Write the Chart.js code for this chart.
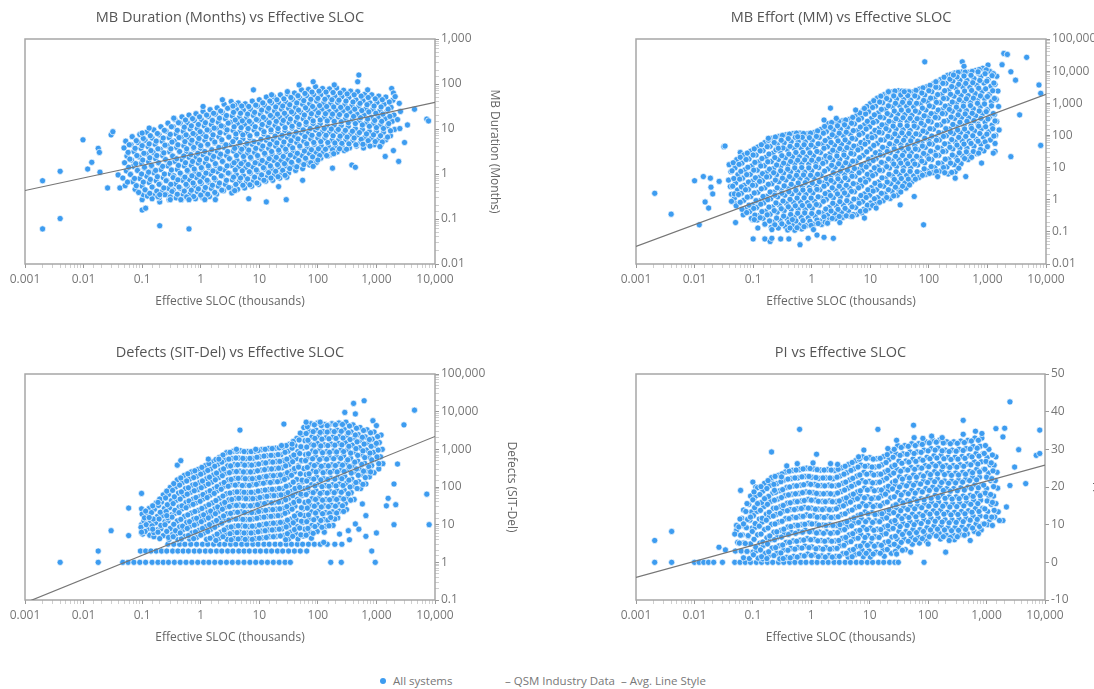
<!DOCTYPE html>
<html>
<head>
<meta charset="utf-8">
<title>Effective SLOC scatter panels</title>
<script src="https://cdn.jsdelivr.net/npm/chart.js@4.4.1/dist/chart.umd.min.js"></script>
<style>
  html, body { margin: 0; padding: 0; background: #fff; width: 1094px; height: 689px; overflow: hidden; position: relative; }
  canvas { position: absolute; }
  .legend { position: absolute; top: 673px; font: 11.5px "Open Sans", sans-serif; color: #777; white-space: nowrap; line-height: 16px; }
  .legend .dot { display: inline-block; width: 6px; height: 6px; border-radius: 50%; background: #3d9cf0; margin-right: 7px; vertical-align: 1px; }
</style>
</head>
<body>
<canvas id="durationChart" width="547" height="330" style="left:0;top:0"></canvas>
<canvas id="effortChart" width="620" height="330" style="left:547px;top:0"></canvas>
<canvas id="defectChart" width="547" height="330" style="left:0;top:330px"></canvas>
<canvas id="piChart" width="620" height="330" style="left:547px;top:330px"></canvas>

<div class="legend" style="left:380px"><span class="dot"></span>All systems</div>
<div class="legend" style="left:505px">&ndash; QSM Industry Data</div>
<div class="legend" style="left:621px">&ndash; Avg. Line Style</div>

<script>
// Tick labels
const xTickValues = [0.001, 0.01, 0.1, 1, 10, 100, 1000, 10000];
const xTickLabels = ['0.001', '0.01', '0.1', '1', '10', '100', '1,000', '10,000'];
const durationTickValues = [0.01, 0.1, 1, 10, 100, 1000];
const durationTickLabels = ['0.01', '0.1', '1', '10', '100', '1,000'];
const effortTickValues = [0.01, 0.1, 1, 10, 100, 1000, 10000, 100000];
const effortTickLabels = ['0.01', '0.1', '1', '10', '100', '1,000', '10,000', '100,000'];
const defectTickValues = [0.1, 1, 10, 100, 1000, 10000, 100000];
const defectTickLabels = ['0.1', '1', '10', '100', '1,000', '10,000', '100,000'];
const piTickValues = [-10, 0, 10, 20, 30, 40, 50];
const piTickLabels = ['-10', '0', '10', '20', '30', '40', '50'];

// Industry trend lines: y at x = 0.001 and x = 10,000
const lineX = [0.001, 10000];
const durationLine = [0.43, 39];
const effortLine = [0.035, 1900];
const defectLine = [0.084, 2200];
const piLine = [-4, 25.8];

// Points, as pairs: log10(SLOC)*100, log10(value)*100
const durationPts = [
  -270,-15, -270,-122, -240,6, -240,-99, -201,76, -186,26, -193,11, -175,57, -173,48, -172,4, -159,-31, -153,87, -150,94,
  -141,-2, -138,-31, -100,-80, -100,-57, -98,-46, -94,-76, -70,-62, -70,-115, -20,-122, 82,-55, 90,187, 112,-62, 133,-28,
  146,-57, 174,-14, 225,13, 270,220, 268,205, 258,20, 264,15, 329,52, 338,28, 365,144, 353,109, 386,122, 389,118, 326,190, 329,180,
  -128,73, -131,58, -126,40, -130,25, -127,7, -133,-9, -129,-26,
  -117,83, -119,65, -114,50, -118,31, -115,17, -120,0, -116,-17, -112,-34,
  -104,88, -107,70, -102,57, -105,38, -101,24, -108,9, -104,-10, -100,-27, -106,-41,
  -92,93, -95,75, -90,61, -93,45, -89,27, -96,13, -92,-5, -88,-19, -94,-37, -91,-49,
  -80,98, -83,80, -78,66, -81,48, -77,34, -84,17, -80,3, -76,-15, -82,-29, -79,-47, -83,-55,
  -68,105, -71,87, -66,73, -69,55, -65,41, -72,24, -68,10, -64,-8, -70,-22, -67,-40, -71,-53,
  -56,113, -59,95, -54,81, -57,63, -53,49, -60,32, -56,18, -52,0, -58,-14, -55,-32, -59,-45, -54,-57,
  -44,121, -47,105, -42,89, -45,73, -41,59, -48,41, -44,28, -40,10, -46,-4, -43,-22, -47,-36, -42,-53,
  -32,127, -35,113, -30,95, -33,81, -29,63, -36,49, -32,32, -28,18, -34,0, -31,-14, -35,-32, -30,-45, -33,-57,
  -20,131, -23,114, -18,100, -21,82, -17,68, -24,50, -20,37, -16,19, -22,5, -19,-13, -23,-27, -18,-44, -21,-56,
  -8,134, -11,119, -6,101, -9,87, -5,69, -12,56, -8,38, -4,24, -10,6, -7,-8, -11,-26, -6,-39, -9,-55,
  4,139, 1,121, 6,107, 3,89, 7,75, 0,57, 4,43, 8,25, 2,11, 5,-7, 1,-21, 6,-38, 3,-52,
  16,143, 13,128, 18,110, 15,96, 19,78, 12,64, 16,46, 20,32, 14,14, 17,0, 13,-18, 18,-32, 15,-50,
  28,147, 25,133, 30,115, 27,101, 31,83, 24,69, 28,51, 32,37, 26,19, 29,5, 25,-13, 30,-27, 27,-45,
  40,155, 37,137, 42,123, 39,105, 43,91, 36,73, 40,59, 44,41, 38,27, 41,9, 37,-5, 42,-23, 39,-37,
  52,161, 49,147, 54,129, 51,115, 55,97, 48,83, 52,65, 56,51, 50,33, 53,19, 49,1, 54,-13, 51,-31, 53,-42,
  64,158, 61,144, 66,126, 63,112, 67,94, 60,80, 64,62, 68,48, 62,30, 65,16, 61,-2, 66,-16, 63,-34,
  76,156, 73,142, 78,124, 75,110, 79,92, 72,78, 76,60, 80,46, 74,28, 77,14, 73,-4, 78,-18, 75,-31,
  88,162, 85,144, 90,130, 87,112, 91,98, 84,80, 88,66, 92,48, 86,34, 89,16, 85,2, 90,-16, 87,-27,
  100,165, 97,151, 102,133, 99,119, 103,101, 96,87, 100,69, 104,55, 98,37, 101,23, 97,5, 102,-9, 99,-23,
  112,171, 109,153, 114,139, 111,121, 115,107, 108,89, 112,75, 116,57, 110,43, 113,25, 109,11, 114,-6, 111,-16,
  124,172, 121,158, 126,140, 123,126, 127,108, 120,94, 124,76, 128,62, 122,44, 125,30, 121,12, 126,-1, 123,-14,
  136,176, 133,158, 138,144, 135,126, 139,112, 132,94, 136,80, 140,62, 134,48, 137,30, 133,16, 138,-1, 135,-9,
  148,178, 145,160, 150,146, 147,128, 151,114, 144,96, 148,82, 152,64, 146,50, 149,32, 145,18, 150,2, 147,-7,
  160,180, 157,166, 162,148, 159,134, 163,116, 156,102, 160,84, 164,70, 158,52, 161,38, 157,20, 162,8,
  172,187, 169,169, 174,155, 171,137, 175,123, 168,105, 172,91, 176,73, 170,59, 173,41, 169,27, 174,12,
  184,188, 181,174, 186,156, 183,142, 187,124, 180,110, 184,92, 188,78, 182,60, 185,46, 181,28, 186,20,
  196,194, 193,176, 198,162, 195,144, 199,130, 192,112, 196,98, 200,80, 194,66, 197,48, 193,34, 198,26,
  208,190, 205,176, 210,158, 207,144, 211,126, 204,112, 208,94, 212,80, 206,62, 209,48, 205,35,
  220,189, 217,171, 222,157, 219,139, 223,125, 216,107, 220,93, 224,75, 218,61, 221,43, 217,40,
  232,191, 229,173, 234,159, 231,141, 235,127, 228,109, 232,95, 236,77, 230,63, 233,49,
  244,186, 241,172, 246,154, 243,140, 247,122, 240,108, 244,90, 248,76, 242,60, 245,52,
  256,184, 253,170, 258,152, 255,138, 259,120, 252,106, 256,88, 260,74, 254,58,
  268,183, 265,165, 270,151, 267,133, 271,119, 264,101, 268,87, 272,69, 266,62,
  280,177, 277,163, 282,145, 279,131, 283,113, 276,99, 280,81, 284,68, 278,58,
  292,176, 289,158, 294,144, 291,126, 295,112, 288,94, 292,80, 296,65,
  304,173, 301,159, 306,141, 303,127, 307,109, 300,95, 304,77, 308,66,
  316,171, 313,155, 318,139, 315,123, 319,107, 312,93, 316,76,
  328,164, 325,148, 330,131, 327,117, 331,99, 324,85,
  339,157, 341,139, 336,121, 340,101,
  // in-between columns of the dense core
  -122,65, -124,48, -121,33, -123,15, -120,-1, -125,-18,
  -110,74, -112,57, -109,41, -111,23, -108,8, -113,-10, -110,-26,
  -98,79, -100,63, -97,46, -99,31, -96,15, -101,0, -98,-18, -95,-35,
  -86,85, -88,67, -85,52, -87,36, -84,19, -89,4, -86,-12, -83,-29, -87,-43,
  -74,90, -76,73, -73,56, -75,41, -72,25, -77,8, -74,-6, -71,-23, -75,-38, -73,-50,
  -62,97, -64,80, -61,64, -63,47, -60,32, -65,17, -62,0, -59,-15, -63,-31, -61,-46,
  -50,105, -52,88, -49,71, -51,56, -48,40, -53,24, -50,9, -47,-8, -51,-23, -49,-39, -52,-51,
  -38,114, -40,97, -37,81, -39,65, -36,50, -41,34, -38,19, -35,2, -39,-13, -37,-29, -40,-45,
  -26,120, -28,104, -25,87, -27,72, -24,56, -29,40, -26,25, -23,8, -27,-7, -25,-23, -28,-38, -24,-51,
  -14,123, -16,107, -13,90, -15,75, -12,59, -17,43, -14,28, -11,11, -15,-4, -13,-20, -16,-36, -12,-50,
  -2,127, -4,110, -1,94, -3,79, 0,63, -5,46, -2,31, 1,14, -3,-1, -1,-17, -4,-33, 0,-47,
  10,131, 8,114, 11,98, 9,83, 12,66, 7,50, 10,34, 13,18, 9,2, 11,-14, 8,-30, 12,-45,
  22,135, 20,119, 23,102, 21,87, 24,71, 19,54, 22,39, 25,23, 21,7, 23,-9, 20,-25, 24,-41,
  34,140, 32,124, 35,107, 33,92, 36,76, 31,59, 34,44, 37,28, 33,12, 35,-4, 32,-20, 36,-36,
  46,146, 44,130, 47,113, 45,98, 48,82, 43,65, 46,50, 49,34, 45,18, 47,2, 44,-14, 48,-30,
  58,153, 56,137, 59,120, 57,105, 60,89, 55,72, 58,57, 61,41, 57,25, 59,9, 56,-7, 60,-23, 58,-37,
  70,151, 68,135, 71,118, 69,103, 72,87, 67,70, 70,55, 73,39, 69,23, 71,7, 68,-9, 72,-25,
  82,150, 80,133, 83,117, 81,101, 84,85, 79,68, 82,53, 85,37, 81,21, 83,5, 80,-11, 84,-24,
  94,153, 92,137, 95,121, 93,105, 96,89, 91,72, 94,57, 97,41, 93,25, 95,9, 92,-7, 96,-20,
  106,158, 104,142, 107,126, 105,110, 108,94, 103,77, 106,62, 109,46, 105,30, 107,14, 104,-2, 108,-14,
  118,162, 116,146, 119,130, 117,114, 120,98, 115,81, 118,66, 121,50, 117,34, 119,18, 116,3, 120,-9,
  130,165, 128,149, 131,133, 129,117, 132,101, 127,84, 130,69, 133,53, 129,37, 131,21, 128,6, 132,-6,
  142,167, 140,151, 143,135, 141,119, 144,103, 139,86, 142,71, 145,55, 141,39, 143,23, 140,8, 144,-3,
  154,170, 152,154, 155,138, 153,122, 156,106, 151,89, 154,74, 157,58, 153,42, 155,26, 152,12,
  166,174, 164,158, 167,142, 165,126, 168,110, 163,93, 166,78, 169,62, 165,46, 167,30, 164,16,
  178,179, 176,163, 179,147, 177,131, 180,115, 175,98, 178,83, 181,67, 177,51, 179,35, 176,21,
  190,182, 188,166, 191,150, 189,134, 192,118, 187,101, 190,86, 193,70, 189,54, 191,38, 188,25,
  202,184, 200,168, 203,152, 201,136, 204,120, 199,103, 202,88, 205,72, 201,56, 203,41, 200,31,
  214,182, 212,166, 215,150, 213,134, 216,118, 211,101, 214,86, 217,70, 213,55, 215,41,
  226,181, 224,165, 227,149, 225,133, 228,117, 223,100, 226,85, 229,69, 225,54, 227,45,
  238,180, 236,164, 239,148, 237,132, 240,116, 235,99, 238,84, 241,68, 237,56,
  250,178, 248,162, 251,146, 249,130, 252,114, 247,97, 250,82, 253,67, 249,55,
  262,176, 260,160, 263,144, 261,128, 264,112, 259,95, 262,80, 265,65,
  274,173, 272,157, 275,141, 273,125, 276,109, 271,92, 274,77, 277,66,
  286,170, 284,154, 287,138, 285,122, 288,106, 283,89, 286,74, 289,62,
  298,167, 296,151, 299,135, 297,119, 300,103, 295,87, 298,72,
  310,165, 308,149, 311,133, 309,117, 312,101, 307,85, 310,71,
  322,160, 320,144, 323,128, 321,112, 324,96, 319,82,
  // ragged edge points
  -100,91, -88,102, -46,124, 4,150, 37,165, 55,151, 121,176, 148,183, 168,198, 192,205, 228,198, 285,187, 332,172,
  -70,-46, -52,-57, -34,-57, -20,-57, 7,-57, 25,-57, 192,17, 306,61, 315,39, 348,70
];

const effortPts = [
  -268,20, -240,-45, -200,59, -192,-78, -185,72, -173,67, -172,39, -169,18, -182,-7, -176,-26, -158,57, -150,165, -148,167,
  -130,-71, -130,-13, -122,147, -100,-122, -101,-62, -80,-122, -71,-130, -68,-120, -53,-122, -39,-122, -20,-140, -6,-120,
  9,-110, 21,-117, 37,-120, 32,285, 193,429, 191,-78, 257,429, 260,415, 301,419, 295,405, 328,455, 334,452, 367,443,
  388,357, 391,331, 391,169, 355,264, 340,134, 313,150, 313,175, 348,372, 340,398, 325,420,
  -141,109, -138,87, -142,61, -139,41, -137,17,
  -128,125, -131,99, -126,78, -130,52, -127,30, -132,5, -129,-19,
  -116,139, -119,114, -114,93, -118,67, -115,45, -120,20, -116,-2, -113,-28, -117,-47,
  -104,151, -107,127, -102,105, -105,79, -101,58, -108,32, -104,10, -100,-15, -106,-37, -103,-58,
  -92,164, -95,139, -90,118, -93,92, -89,70, -96,45, -92,23, -88,-3, -94,-24, -91,-50, -93,-63,
  -80,178, -83,153, -78,132, -81,106, -77,84, -84,59, -80,37, -76,11, -82,-10, -79,-36, -83,-58, -80,-76,
  -68,191, -71,166, -66,145, -69,119, -65,97, -72,72, -68,50, -64,24, -70,3, -67,-23, -71,-45, -66,-70, -69,-86,
  -56,197, -59,172, -54,151, -57,125, -53,103, -60,78, -56,56, -52,30, -58,9, -55,-17, -59,-39, -54,-64, -57,-88,
  -44,202, -47,177, -42,156, -45,130, -41,108, -48,83, -44,61, -40,35, -46,14, -43,-12, -47,-34, -42,-59, -45,-83, -41,-94,
  -32,206, -35,181, -30,160, -33,134, -29,112, -36,87, -32,65, -28,39, -34,18, -31,-8, -35,-30, -30,-55, -33,-79, -29,-95,
  -20,207, -23,182, -18,161, -21,135, -17,113, -24,88, -20,66, -16,40, -22,19, -19,-7, -23,-29, -18,-54, -21,-78, -17,-91,
  -8,205, -11,180, -6,159, -9,133, -5,111, -12,86, -8,64, -4,38, -10,17, -7,-9, -11,-31, -6,-56, -9,-80,
  4,209, 1,184, 6,163, 3,137, 7,115, 0,90, 4,68, 8,42, 2,21, 5,-5, 1,-27, 6,-52, 3,-76,
  16,219, 13,194, 18,173, 15,147, 19,125, 12,100, 16,78, 20,52, 14,31, 17,5, 13,-17, 18,-42, 15,-66, 17,-77,
  28,237, 25,212, 30,191, 27,165, 31,143, 24,118, 28,96, 32,70, 26,49, 29,23, 25,1, 30,-24, 27,-48, 29,-63,
  40,242, 37,217, 42,196, 39,170, 43,148, 36,123, 40,101, 44,75, 38,54, 41,28, 37,6, 42,-19, 39,-43, 41,-59,
  52,245, 49,220, 54,199, 51,173, 55,151, 48,126, 52,104, 56,78, 50,57, 53,31, 49,9, 54,-16, 51,-40, 53,-55,
  64,250, 61,225, 66,204, 63,178, 67,156, 60,131, 64,109, 68,83, 62,62, 65,36, 61,14, 66,-11, 63,-35, 65,-51,
  76,261, 73,236, 78,215, 75,189, 79,167, 72,142, 76,120, 80,94, 74,73, 77,47, 73,25, 78,0, 75,-24, 77,-46,
  88,279, 85,254, 90,233, 87,207, 91,185, 84,160, 88,138, 92,112, 86,91, 89,65, 85,43, 90,18, 87,-6, 89,-30, 86,-41,
  100,299, 97,274, 102,253, 99,227, 103,205, 96,180, 100,158, 104,132, 98,111, 101,85, 97,63, 102,38, 99,14, 101,-10, 98,-26,
  112,316, 109,291, 114,270, 111,244, 115,222, 108,197, 112,175, 116,149, 110,128, 113,102, 109,80, 114,55, 111,31, 113,7, 110,-13,
  124,327, 121,302, 126,281, 123,255, 127,233, 120,208, 124,186, 128,160, 122,139, 125,113, 121,91, 126,66, 123,42, 125,18, 122,-3,
  136,335, 133,310, 138,289, 135,263, 139,241, 132,216, 136,194, 140,168, 134,147, 137,121, 133,99, 138,74, 135,50, 137,26, 134,4,
  148,339, 145,314, 150,293, 147,267, 151,245, 144,220, 148,198, 152,172, 146,151, 149,125, 145,103, 150,78, 147,54, 149,30, 146,14,
  160,337, 157,312, 162,291, 159,265, 163,243, 156,218, 160,196, 164,170, 158,149, 161,123, 157,101, 162,76, 159,52, 161,36,
  172,335, 169,310, 174,289, 171,263, 175,241, 168,216, 172,194, 176,168, 170,147, 173,121, 169,99, 174,74, 171,56,
  184,344, 181,319, 186,298, 183,272, 187,250, 180,225, 184,203, 188,177, 182,156, 185,130, 181,108, 186,83, 183,69,
  196,351, 193,326, 198,305, 195,279, 199,257, 192,232, 196,210, 200,184, 194,163, 197,137, 193,115, 198,90, 195,79,
  208,361, 205,336, 210,315, 207,289, 211,267, 204,242, 208,220, 212,194, 206,173, 209,147, 205,125, 210,100, 207,84,
  220,374, 217,349, 222,328, 219,302, 223,280, 216,255, 220,233, 224,207, 218,186, 221,160, 217,138, 222,113, 219,89,
  232,387, 229,362, 234,341, 231,315, 235,293, 228,268, 232,246, 236,220, 230,199, 233,173, 229,151, 234,126, 231,102, 233,80,
  244,394, 241,369, 246,348, 243,322, 247,300, 240,275, 244,253, 248,227, 242,206, 245,180, 241,158, 246,133, 243,109, 245,87,
  256,397, 253,372, 258,351, 255,325, 259,303, 252,278, 256,256, 260,230, 254,209, 257,183, 253,161, 258,136, 255,112,
  268,396, 265,371, 270,350, 267,324, 271,302, 264,277, 268,255, 272,229, 266,208, 269,182, 265,160, 270,137, 267,125,
  280,402, 277,377, 282,356, 279,330, 283,308, 276,283, 280,261, 284,235, 278,214, 281,188, 277,166, 282,143,
  292,409, 289,384, 294,363, 291,337, 295,315, 288,290, 292,268, 296,242, 290,221, 293,195, 289,173, 294,152,
  304,399, 301,374, 306,353, 303,327, 307,305, 300,280, 304,258, 308,232, 302,211, 305,186,
  316,384, 313,359, 318,338, 315,312, 319,290, 312,265, 316,243, 320,217, 314,200,
  // in-between columns of the dense core
  -134,115, -136,90, -133,66, -135,42, -132,18, -137,-5,
  -122,132, -124,110, -121,88, -123,64, -120,40, -125,16, -122,-8, -119,-30,
  -110,145, -112,125, -109,101, -111,78, -108,55, -113,31, -110,8, -107,-17, -111,-40,
  -98,158, -100,139, -97,116, -99,92, -96,68, -101,45, -98,21, -95,-3, -99,-27, -97,-48,
  -86,171, -88,152, -85,128, -87,105, -84,81, -89,57, -86,34, -83,10, -87,-14, -85,-37, -88,-56,
  -74,185, -76,165, -73,142, -75,118, -72,95, -77,71, -74,48, -71,24, -75,0, -73,-23, -76,-47, -72,-66,
  -62,195, -64,178, -61,155, -63,131, -60,108, -65,84, -62,61, -59,37, -63,14, -61,-10, -64,-34, -60,-57, -63,-78,
  -50,200, -52,185, -49,161, -51,137, -48,114, -53,90, -50,67, -47,43, -51,20, -49,-4, -52,-28, -48,-51, -51,-75,
  -38,204, -40,190, -37,166, -39,142, -36,119, -41,95, -38,72, -35,48, -39,25, -37,1, -40,-22, -36,-46, -39,-70, -37,-88,
  -26,207, -28,194, -25,170, -27,147, -24,123, -29,99, -26,76, -23,52, -27,29, -25,5, -28,-19, -24,-42, -27,-66, -25,-87,
  -14,206, -16,194, -13,171, -15,147, -12,124, -17,100, -14,77, -11,53, -15,30, -13,6, -16,-18, -12,-41, -15,-65, -13,-84,
  -2,207, -4,193, -1,170, -3,146, 0,123, -5,99, -2,76, 1,52, -3,29, -1,5, -4,-19, 0,-43, -3,-67, -1,-80,
  10,214, 8,197, 11,174, 9,150, 12,126, 7,103, 10,79, 13,56, 9,32, 11,9, 8,-15, 12,-39, 9,-63, 11,-74,
  22,228, 20,207, 23,184, 21,160, 24,136, 19,113, 22,89, 25,66, 21,42, 23,19, 20,-5, 24,-29, 21,-53, 23,-70,
  34,240, 32,225, 35,202, 33,178, 36,154, 31,131, 34,107, 37,84, 33,60, 35,37, 32,13, 36,-11, 33,-35, 35,-58,
  46,244, 44,230, 47,207, 45,183, 48,159, 43,136, 46,112, 49,89, 45,65, 47,42, 44,18, 48,-6, 45,-30, 47,-52,
  58,248, 56,233, 59,210, 57,186, 60,162, 55,139, 58,115, 61,92, 57,68, 59,45, 56,21, 60,-3, 57,-27, 59,-50,
  70,256, 68,238, 71,215, 69,191, 72,167, 67,144, 70,120, 73,97, 69,73, 71,50, 68,26, 72,2, 69,-22, 71,-46,
  82,270, 80,249, 83,226, 81,202, 84,178, 79,155, 82,131, 85,108, 81,84, 83,61, 80,37, 84,13, 81,-11, 83,-36,
  94,290, 92,267, 95,244, 93,220, 96,196, 91,173, 94,149, 97,126, 93,102, 95,79, 92,55, 96,31, 93,7, 95,-17, 92,-34,
  106,308, 104,287, 107,264, 105,240, 108,216, 103,193, 106,169, 109,146, 105,122, 107,99, 104,75, 108,51, 105,27, 107,3, 104,-18,
  118,322, 116,304, 119,281, 117,257, 120,233, 115,210, 118,186, 121,163, 117,139, 119,116, 116,92, 120,68, 117,44, 119,20, 116,-8,
  130,332, 128,315, 131,292, 129,268, 132,244, 127,221, 130,197, 133,174, 129,150, 131,127, 128,103, 132,79, 129,55, 131,31, 128,7,
  142,338, 140,323, 143,300, 141,276, 144,252, 139,229, 142,205, 145,182, 141,158, 143,135, 140,111, 144,87, 141,63, 143,39, 140,12,
  154,338, 152,326, 155,303, 153,279, 156,255, 151,232, 154,208, 157,185, 153,161, 155,138, 152,114, 156,90, 153,66, 155,42, 152,24,
  166,336, 164,324, 167,301, 165,277, 168,253, 163,230, 166,206, 169,183, 165,159, 167,136, 164,112, 168,88, 165,64, 167,46,
  178,340, 176,323, 179,300, 177,276, 180,252, 175,229, 178,205, 181,182, 177,158, 179,135, 176,111, 180,87, 177,64,
  190,348, 188,332, 191,309, 189,285, 192,261, 187,238, 190,214, 193,191, 189,167, 191,144, 188,120, 192,96, 189,76,
  202,356, 200,339, 203,316, 201,292, 204,268, 199,245, 202,221, 205,198, 201,174, 203,151, 200,127, 204,103, 201,82,
  214,368, 212,350, 215,327, 213,303, 216,279, 211,256, 214,232, 217,209, 213,185, 215,162, 212,138, 216,114, 213,88,
  226,381, 224,362, 227,339, 225,315, 228,291, 223,268, 226,244, 229,221, 225,197, 227,174, 224,150, 228,126, 225,100, 227,84,
  238,390, 236,375, 239,352, 237,328, 240,304, 235,281, 238,257, 241,234, 237,210, 239,187, 236,163, 240,139, 237,114, 239,85,
  250,396, 248,382, 251,359, 249,335, 252,311, 247,288, 250,264, 253,241, 249,217, 251,194, 248,170, 252,146, 249,122, 251,98,
  262,397, 260,385, 263,362, 261,338, 264,314, 259,291, 262,267, 265,244, 261,220, 263,197, 260,173, 264,149, 261,128,
  274,399, 272,387, 275,364, 273,340, 276,316, 271,293, 274,269, 277,246, 273,222, 275,199, 272,175, 276,150, 273,132,
  286,405, 284,394, 287,371, 285,347, 288,323, 283,300, 286,276, 289,253, 285,229, 287,206, 284,182, 288,156, 285,145,
  298,404, 296,392, 299,369, 297,345, 300,321, 295,298, 298,274, 301,251, 297,227, 299,204, 296,180, 300,165,
  310,392, 308,386, 311,363, 309,339, 312,315, 307,292, 310,268, 313,245, 309,221, 311,198,
  // ragged edge points
  -74,191, -57,160, -24,196, 21,248, 42,253, 75,279, 90,284, 131,336, 158,336, 212,367, 242,388, 284,398,
  -98,-62, -92,-88, -68,-93, -33,-62, 3,-93, 27,-73, 48,-71, 69,-52, 90,-57, 110,-26, 151,-16, 175,10, 215,72, 245,67, 263,72, 290,114, 310,145
];

const defectPts = [
  // rows of 1, 2 and 3 defects
  -240,0, -175,0, -133,0, -124,0, -114,0, -104,0, -94,0, -83,0, -73,0, -64,0, -55,0, -45,0, -35,0, -25,0, -15,0, -5,0,
  5,0, 14,0, 24,0, 34,0, 44,0, 54,0, 64,0, 74,0, 84,0, 94,0, 104,0, 114,0, 124,0, 134,0, 144,0, 153,0, 222,0, 240,0, 298,0,
  -175,30, -103,30, -94,30, -85,30, -76,30, -67,30, -58,30, -48,30, -39,30, -30,30, -21,30, -11,30, -2,30, 8,30, 17,30,
  27,30, 36,30, 46,30, 55,30, 65,30, 74,30, 83,30, 93,30, 102,30, 112,30, 121,30, 131,30, 140,30, 150,30, 160,30, 170,30, 181,30, 292,30,
  -56,48, -46,48, -36,48, -27,48, -17,48, -7,48, 3,48, 12,48, 22,48, 32,48, 41,48, 51,48, 60,48, 70,48, 79,48, 89,48,
  98,48, 108,48, 117,48, 127,48, 136,48, 146,48, 155,48, 165,48, 174,48, 184,48, 194,48, 204,48, 216,48, 229,48, 241,48,
  // scattered
  -153,84, -123,144, -123,71, -101,183, -101,142, -101,100, -101,78, -73,157, -61,177, -63,172, -40,258, 67,351, 142,367,
  365,404, 279,429, 261,422, 386,181, 390,100, 330,100, 320,170, 317,150, 333,153, 330,208, 336,261, 347,365, 300,78, 282,69, 254,60, 270,88,
  -100,128, -97,110, -102,93, -99,75,
  -88,143, -91,125, -86,109, -89,90, -87,72,
  -76,158, -79,141, -74,122, -77,105, -73,87, -80,68,
  -64,179, -67,160, -62,143, -65,124, -61,108, -68,89, -64,71,
  -52,199, -55,180, -50,164, -53,145, -49,127, -56,110, -52,90, -48,74, -54,61,
  -40,219, -43,200, -38,184, -41,165, -37,147, -44,130, -40,110, -36,94, -42,75, -39,60,
  -28,231, -31,212, -26,196, -29,177, -25,159, -32,142, -28,122, -24,106, -30,87, -27,69,
  -16,240, -19,221, -14,205, -17,186, -13,168, -20,151, -16,131, -12,115, -18,96, -15,78, -19,62,
  -4,247, -7,228, -2,212, -5,193, -1,175, -8,158, -4,138, 0,122, -6,103, -3,85, -7,66,
  8,257, 5,238, 10,222, 7,203, 11,185, 4,168, 8,148, 12,132, 6,113, 9,95, 5,77, 10,61,
  20,267, 17,248, 22,232, 19,213, 23,195, 16,178, 20,158, 24,142, 18,123, 21,105, 17,87, 22,68,
  32,279, 29,260, 34,244, 31,225, 35,207, 28,190, 32,170, 36,154, 30,135, 33,117, 29,99, 34,80, 31,63,
  44,291, 41,272, 46,256, 43,237, 47,219, 40,202, 44,182, 48,166, 42,147, 45,129, 41,111, 46,92, 43,75, 45,61,
  56,295, 53,276, 58,260, 55,241, 59,223, 52,206, 56,186, 60,170, 54,151, 57,133, 53,115, 58,96, 55,79, 57,63,
  68,296, 65,277, 70,261, 67,242, 71,224, 64,207, 68,187, 72,171, 66,152, 69,134, 65,116, 70,97, 67,80, 69,64,
  80,294, 77,275, 82,259, 79,240, 83,222, 76,205, 80,185, 84,169, 78,150, 81,132, 77,114, 82,95, 79,78, 81,62,
  92,295, 89,276, 94,260, 91,241, 95,223, 88,206, 92,186, 96,170, 90,151, 93,133, 89,115, 94,96, 91,79, 93,63,
  104,299, 101,280, 106,264, 103,245, 107,227, 100,210, 104,190, 108,174, 102,155, 105,137, 101,119, 106,100, 103,83, 105,65,
  116,302, 113,283, 118,267, 115,248, 119,230, 112,213, 116,193, 120,177, 114,158, 117,140, 113,122, 118,103, 115,86, 117,68,
  128,303, 125,284, 130,268, 127,249, 131,231, 124,214, 128,194, 132,178, 126,159, 129,141, 125,123, 130,104, 127,87, 129,69,
  140,305, 137,286, 142,270, 139,251, 143,233, 136,216, 140,196, 144,180, 138,161, 141,143, 137,125, 142,106, 139,89, 141,71,
  152,314, 149,295, 154,279, 151,260, 155,242, 148,225, 152,205, 156,189, 150,170, 153,152, 149,134, 154,115, 151,98, 153,80, 150,62,
  164,329, 161,310, 166,294, 163,275, 167,257, 160,240, 164,220, 168,204, 162,185, 165,167, 161,149, 166,130, 163,113, 165,95, 162,77, 166,62,
  176,358, 173,339, 178,323, 175,304, 179,286, 172,269, 176,249, 180,233, 174,214, 177,196, 173,178, 178,159, 175,142, 177,124, 174,106, 178,88, 175,70,
  188,368, 185,349, 190,333, 187,314, 191,296, 184,279, 188,259, 192,243, 186,224, 189,206, 185,188, 190,169, 187,152, 189,134, 186,116, 190,98, 187,80, 189,64,
  200,370, 197,351, 202,335, 199,316, 203,298, 196,281, 200,261, 204,245, 198,226, 201,208, 197,190, 202,171, 199,154, 201,136, 198,118, 202,100, 199,82,
  212,366, 209,347, 214,331, 211,312, 215,294, 208,277, 212,257, 216,241, 210,222, 213,204, 209,186, 214,167, 211,150, 213,132, 210,114, 214,96, 211,80,
  224,368, 221,349, 226,333, 223,314, 227,296, 220,279, 224,259, 228,243, 222,224, 225,206, 221,188, 226,169, 223,152, 225,134, 222,116, 226,98,
  236,370, 233,351, 238,335, 235,316, 239,298, 232,281, 236,261, 240,245, 234,226, 237,208, 233,190, 238,171, 235,154, 237,136, 234,118,
  248,372, 245,353, 250,337, 247,318, 251,300, 244,283, 248,263, 252,247, 246,228, 249,210, 245,192, 250,173, 247,156, 249,140,
  260,365, 257,346, 262,330, 259,311, 263,293, 256,276, 260,256, 264,240, 258,221, 261,203, 257,185, 262,167,
  272,358, 269,339, 274,323, 271,304, 275,286, 268,269, 272,249, 276,233, 270,214, 273,196,
  284,352, 281,333, 286,317, 283,298, 287,280, 280,263, 284,243, 288,227, 282,208,
  296,346, 293,327, 298,311, 295,292, 299,274, 292,257, 296,238,
  308,338, 305,318, 310,300, 307,280, 311,262, 304,248,
  // in-between columns of the dense core
  -94,136, -96,118, -93,100, -95,82,
  -82,150, -84,132, -81,115, -83,97, -80,79,
  -70,168, -72,151, -69,133, -71,115, -68,98, -73,80, -70,63,
  -58,189, -60,171, -57,153, -59,135, -56,118, -61,100, -58,82, -55,66,
  -46,209, -48,191, -45,174, -47,156, -44,138, -49,120, -46,101, -43,84, -47,68,
  -34,224, -36,205, -33,187, -35,168, -32,150, -37,132, -34,114, -31,96, -35,78, -33,62,
  -22,235, -24,216, -21,198, -23,181, -20,163, -25,145, -22,126, -19,108, -23,90, -21,71,
  -10,243, -12,225, -9,207, -11,190, -8,172, -13,154, -10,135, -7,117, -11,99, -9,81, -12,63,
  2,252, 0,234, 3,216, 1,198, 4,180, -1,162, 2,143, 5,126, 1,108, 3,90, 0,72,
  14,262, 12,244, 15,226, 13,208, 16,190, 11,172, 14,153, 17,136, 13,118, 15,100, 12,82, 16,64,
  26,273, 24,255, 27,237, 25,219, 28,201, 23,183, 26,164, 29,147, 25,129, 27,111, 24,93, 28,75, 26,58,
  38,285, 36,266, 39,248, 37,230, 40,212, 35,194, 38,176, 41,159, 37,141, 39,123, 36,104, 40,86, 38,68,
  50,292, 48,274, 51,256, 49,238, 52,220, 47,202, 50,184, 53,167, 49,148, 51,130, 48,112, 52,94, 50,76, 52,60,
  62,295, 60,277, 63,259, 61,241, 64,223, 59,205, 62,187, 65,170, 61,151, 63,133, 60,115, 64,97, 62,79, 64,62,
  74,294, 72,276, 75,258, 73,240, 76,222, 71,204, 74,186, 77,169, 73,150, 75,132, 72,114, 76,96, 74,78, 76,61,
  86,294, 84,276, 87,258, 85,240, 88,222, 83,204, 86,186, 89,169, 85,150, 87,132, 84,114, 88,96, 86,78, 88,61,
  98,297, 96,279, 99,261, 97,243, 100,225, 95,207, 98,189, 101,172, 97,153, 99,135, 96,117, 100,99, 98,81, 100,64,
  110,300, 108,282, 111,264, 109,246, 112,228, 107,210, 110,192, 113,175, 109,156, 111,138, 108,120, 112,102, 110,84, 112,66,
  122,302, 120,284, 123,266, 121,248, 124,230, 119,212, 122,194, 125,177, 121,158, 123,140, 120,122, 124,104, 122,86, 124,68,
  134,304, 132,286, 135,268, 133,250, 136,232, 131,214, 134,196, 137,179, 133,160, 135,142, 132,124, 136,106, 134,88, 136,70,
  146,310, 144,292, 147,274, 145,256, 148,238, 143,220, 146,202, 149,185, 145,166, 147,148, 144,130, 148,112, 146,94, 148,76, 145,60,
  158,321, 156,303, 159,285, 157,267, 160,249, 155,231, 158,213, 161,196, 157,177, 159,159, 156,141, 160,123, 158,105, 160,87, 157,69,
  170,343, 168,325, 171,307, 169,289, 172,271, 167,253, 170,235, 173,218, 169,199, 171,181, 168,163, 172,145, 170,127, 172,109, 169,91, 171,73,
  182,360, 180,342, 183,324, 181,306, 184,288, 179,270, 182,252, 185,235, 181,216, 183,198, 180,180, 184,162, 182,144, 184,126, 181,108, 183,90, 180,72,
  194,365, 192,347, 195,329, 193,311, 196,293, 191,275, 194,257, 197,240, 193,221, 195,203, 192,185, 196,167, 194,149, 196,131, 193,113, 195,95, 192,77,
  206,363, 204,345, 207,327, 205,309, 208,291, 203,273, 206,255, 209,238, 205,219, 207,201, 204,183, 208,165, 206,147, 208,129, 205,111, 207,93,
  218,364, 216,346, 219,328, 217,310, 220,292, 215,274, 218,256, 221,239, 217,220, 219,202, 216,184, 220,166, 218,148, 220,130, 217,112, 219,97,
  230,365, 228,347, 231,329, 229,311, 232,293, 227,275, 230,257, 233,240, 229,221, 231,203, 228,185, 232,167, 230,149, 232,131, 229,115,
  242,366, 240,348, 243,330, 241,312, 244,294, 239,276, 242,258, 245,241, 241,222, 243,204, 240,186, 244,168, 242,150, 244,135,
  254,362, 252,344, 255,326, 253,308, 256,290, 251,272, 254,254, 257,237, 253,218, 255,200, 252,182, 256,165,
  266,356, 264,338, 267,320, 265,302, 268,284, 263,266, 266,248, 269,231, 265,212, 267,196,
  278,350, 276,332, 279,314, 277,296, 280,278, 275,260, 278,242, 281,225, 277,207,
  290,344, 288,326, 291,308, 289,290, 292,272, 287,254, 290,240,
  302,334, 300,316, 303,298, 301,280, 304,262,
  // ragged edge points
  -34,270, 13,274, 31,274, 61,300, 94,300, 138,310, 156,314, 180,372, 204,372, 216,363, 246,398, 264,394, 294,376, 300,363,
  -73,159, -88,119, -82,88, -58,124, -101,80, 222,119, 237,75, 252,84, 264,102, 282,124, 276,155, 210,53
];

// PI is linear: pairs of log10(SLOC)*100, PI
const piPts = [
  // PI = 0 row
  -268,0, -239,0, -200,0, -192,0, -184,0, -176,0, -167,0, -152,0, -131,0, -122,0, -113,0, -104,0, -94,0, -85,0, -75,0,
  -66,0, -56,0, -47,0, -37,0, -28,0, -18,0, -9,0, 1,0, 10,0, 20,0, 29,0, 39,0, 48,0, 58,0, 67,0, 77,0, 86,0, 96,0,
  105,0, 115,0, 124,0, 134,0, 143,0, 149,0, 193,0,
  // scattered
  -268,5.8, -239,8.2, -158,4.0, -147,3.3, -128,8.5, -125,5.1, -121,19.1, -100,21.3, -95,20.0, -98,16.9, -68,29.3, -68,21.3,
  -20,35.3, 9,28.7, 114,35.3, 175,36.4, 260,37.7, 340,42.6, 391,35.1, 385,28.4, 391,28.9, 367,20.9, 355,29.9, 348,25.3,
  340,20.4, 316,35.5, 331,35.6, 328,33.3, 230,2.7, 334,14.7, 328,11.1,
  -128,9.8, -131,7.5, -126,5.3, -130,3.0,
  -116,13.9, -119,11.7, -114,9.6, -118,7.3, -115,5.2, -120,3.0, -116,1.2,
  -104,17.6, -107,15.4, -102,13.4, -105,11.2, -101,9.1, -108,6.9, -104,4.9, -100,2.7, -106,1.0,
  -92,19.8, -95,17.6, -90,15.7, -93,13.5, -89,11.5, -96,9.3, -92,7.3, -88,5.1, -94,3.1, -91,1.1,
  -80,21.0, -83,18.9, -78,17.0, -81,14.8, -77,12.8, -84,10.7, -80,8.7, -76,6.5, -82,4.5, -79,2.4, -83,0.9,
  -68,22.5, -71,20.4, -66,18.4, -69,16.2, -65,14.3, -72,12.1, -68,10.1, -64,8.0, -70,6.0, -67,3.8, -71,1.9,
  -56,23.1, -59,20.9, -54,19.0, -57,16.8, -53,14.8, -60,12.7, -56,10.7, -52,8.5, -58,6.6, -55,4.4, -59,2.4, -54,0.9,
  -44,24.0, -47,21.8, -42,19.9, -45,17.7, -41,15.7, -48,13.6, -44,11.6, -40,9.4, -46,7.5, -43,5.3, -47,3.3, -42,1.3,
  -32,24.4, -35,22.2, -30,20.3, -33,18.1, -29,16.1, -36,14.0, -32,12.0, -28,9.8, -34,7.9, -31,5.7, -35,3.7, -30,1.6,
  -20,24.6, -23,22.4, -18,20.5, -21,18.3, -17,16.3, -24,14.2, -20,12.2, -16,10.0, -22,8.1, -19,5.9, -23,3.9, -18,1.8,
  -8,25.0, -11,22.8, -6,20.9, -9,18.7, -5,16.7, -12,14.6, -8,12.6, -4,10.4, -10,8.5, -7,6.3, -11,4.3, -6,2.2,
  4,24.8, 1,22.6, 6,20.7, 3,18.5, 7,16.5, 0,14.4, 4,12.4, 8,10.2, 2,8.3, 5,6.1, 1,4.1, 6,2.0,
  16,24.5, 13,22.3, 18,20.4, 15,18.2, 19,16.2, 12,14.1, 16,12.1, 20,9.9, 14,8.0, 17,5.8, 13,3.8, 18,1.7,
  28,24.6, 25,22.4, 30,20.5, 27,18.3, 31,16.3, 24,14.2, 28,12.2, 32,10.0, 26,8.1, 29,5.9, 25,3.9, 30,1.8,
  40,24.4, 37,22.2, 42,20.3, 39,18.1, 43,16.1, 36,14.0, 40,12.0, 44,9.8, 38,7.9, 41,5.7, 37,3.7, 42,1.6,
  52,25.1, 49,22.9, 54,21.0, 51,18.8, 55,16.8, 48,14.7, 52,12.7, 56,10.5, 50,8.6, 53,6.4, 49,4.4, 54,2.3,
  64,26.0, 61,23.8, 66,21.9, 63,19.7, 67,17.7, 60,15.6, 64,13.6, 68,11.4, 62,9.5, 65,7.3, 61,5.3, 66,3.2, 63,1.4,
  76,27.0, 73,24.8, 78,22.9, 75,20.7, 79,18.7, 72,16.6, 76,14.6, 80,12.4, 74,10.5, 77,8.3, 73,6.3, 78,4.2, 75,2.1,
  88,28.0, 85,25.8, 90,23.9, 87,21.7, 91,19.7, 84,17.6, 88,15.6, 92,13.4, 86,11.5, 89,9.3, 85,7.3, 90,5.2, 87,3.2, 89,1.5,
  100,27.8, 97,25.6, 102,23.7, 99,21.5, 103,19.5, 96,17.4, 100,15.4, 104,13.2, 98,11.3, 101,9.1, 97,7.1, 102,5.0, 99,3.0, 101,1.4,
  112,27.5, 109,25.3, 114,23.4, 111,21.2, 115,19.2, 108,17.1, 112,15.1, 116,12.9, 110,11.0, 113,8.8, 109,6.8, 114,4.7, 111,2.7,
  124,28.1, 121,25.9, 126,24.0, 123,21.8, 127,19.8, 120,17.7, 124,15.7, 128,13.5, 122,11.6, 125,9.4, 121,7.4, 126,5.3, 123,3.3, 125,1.6,
  136,29.5, 133,27.3, 138,25.4, 135,23.2, 139,21.2, 132,19.1, 136,17.1, 140,14.9, 134,13.0, 137,10.8, 133,8.8, 138,6.7, 135,4.7, 137,2.4,
  148,31.0, 145,28.8, 150,26.9, 147,24.7, 151,22.7, 144,20.6, 148,18.6, 152,16.4, 146,14.5, 149,12.3, 145,10.3, 150,8.2, 147,6.2, 149,4.1, 146,2.2,
  160,31.0, 157,28.8, 162,26.9, 159,24.7, 163,22.7, 156,20.6, 160,18.6, 164,16.4, 158,14.5, 161,12.3, 157,10.3, 162,8.2, 159,6.2, 161,3.4,
  172,31.5, 169,29.3, 174,27.4, 171,25.2, 175,23.2, 168,21.1, 172,19.1, 176,16.9, 170,15.0, 173,12.8, 169,10.8, 174,8.7, 171,6.7, 173,4.8,
  184,31.5, 181,29.3, 186,27.4, 183,25.2, 187,23.2, 180,21.1, 184,19.1, 188,16.9, 182,15.0, 185,12.8, 181,10.8, 186,8.7, 183,6.7, 185,5.1,
  196,32.0, 193,29.8, 198,27.9, 195,25.7, 199,23.7, 192,21.6, 196,19.6, 200,17.4, 194,15.5, 197,13.3, 193,11.3, 198,9.2, 195,7.2, 197,5.6,
  208,32.4, 205,30.2, 210,28.3, 207,26.1, 211,24.1, 204,22.0, 208,20.0, 212,17.8, 206,15.9, 209,13.7, 205,11.7, 210,9.6, 207,7.6,
  220,32.5, 217,30.3, 222,28.4, 219,26.2, 223,24.2, 216,22.1, 220,20.1, 224,17.9, 218,16.0, 221,13.8, 217,11.8, 222,9.7, 219,7.7, 221,6.2,
  232,32.0, 229,29.8, 234,27.9, 231,25.7, 235,23.7, 228,21.6, 232,19.6, 236,17.4, 230,15.5, 233,13.3, 229,11.3, 234,9.2, 231,7.2,
  244,32.0, 241,29.8, 246,27.9, 243,25.7, 247,23.7, 240,21.6, 244,19.6, 248,17.4, 242,15.5, 245,13.3, 241,11.3, 246,9.2, 243,7.2, 245,6.0,
  256,32.2, 253,30.0, 258,28.1, 255,25.9, 259,23.9, 252,21.8, 256,19.8, 260,17.6, 254,15.7, 257,13.5, 253,11.5, 258,9.4, 255,7.4,
  268,32.4, 265,30.2, 270,28.3, 267,26.1, 271,24.1, 264,22.0, 268,20.0, 272,17.8, 266,15.9, 269,13.7, 265,11.7, 270,9.6, 267,7.6,
  280,33.0, 277,30.8, 282,28.9, 279,26.7, 283,24.7, 276,22.6, 280,20.6, 284,18.4, 278,16.5, 281,14.3, 277,12.3, 282,10.2, 279,8.2,
  292,33.0, 289,30.8, 294,28.9, 291,26.7, 295,24.7, 288,22.6, 292,20.6, 296,18.4, 290,16.5, 293,14.3, 289,12.3, 294,10.2, 291,8.6,
  304,30.0, 301,27.8, 306,25.9, 303,23.7, 307,21.7, 300,19.6, 304,17.6, 308,15.4, 302,13.5, 305,11.3, 301,10.0,
  316,28.0, 313,25.8, 318,23.9, 315,21.7, 319,19.7, 312,17.6, 316,15.6, 320,13.4, 314,12.0,
  // in-between columns of the dense core
  -122,11.5, -124,9.4, -121,7.2, -123,5.1, -120,3.0,
  -110,15.6, -112,13.5, -109,11.4, -111,9.2, -108,7.1, -113,5.0, -110,2.9,
  -98,18.7, -100,16.6, -97,14.5, -99,12.4, -96,10.3, -101,8.2, -98,6.1, -95,4.0, -99,2.0,
  -86,20.1, -88,18.0, -85,15.9, -87,13.8, -84,11.7, -89,9.6, -86,7.5, -83,5.4, -87,3.3, -85,1.5,
  -74,21.7, -76,19.6, -73,17.5, -75,15.4, -72,13.3, -77,11.2, -74,9.1, -71,7.0, -75,4.9, -73,2.8, -76,1.0,
  -62,22.8, -64,20.7, -61,18.6, -63,16.5, -60,14.4, -65,12.3, -62,10.2, -59,8.1, -63,6.0, -61,3.9, -64,1.8,
  -50,23.5, -52,21.4, -49,19.3, -51,17.2, -48,15.1, -53,13.0, -50,10.9, -47,8.8, -51,6.7, -49,4.6, -52,2.5, -48,1.0,
  -38,24.2, -40,22.1, -37,20.0, -39,17.9, -36,15.8, -41,13.7, -38,11.6, -35,9.5, -39,7.4, -37,5.3, -40,3.2, -36,1.2,
  -26,24.5, -28,22.4, -25,20.3, -27,18.2, -24,16.1, -29,14.0, -26,11.9, -23,9.8, -27,7.7, -25,5.6, -28,3.5, -24,1.4,
  -14,24.8, -16,22.7, -13,20.6, -15,18.5, -12,16.4, -17,14.3, -14,12.2, -11,10.1, -15,8.0, -13,5.9, -16,3.8, -12,1.7,
  -2,24.9, -4,22.8, -1,20.7, -3,18.6, 0,16.5, -5,14.4, -2,12.3, 1,10.2, -3,8.1, -1,6.0, -4,3.9, 0,1.8,
  10,24.6, 8,22.5, 11,20.4, 9,18.3, 12,16.2, 7,14.1, 10,12.0, 13,9.9, 9,7.8, 11,5.7, 8,3.6, 12,1.5,
  22,24.5, 20,22.4, 23,20.3, 21,18.2, 24,16.1, 19,14.0, 22,11.9, 25,9.8, 21,7.7, 23,5.6, 20,3.5, 24,1.4,
  34,24.5, 32,22.4, 35,20.3, 33,18.2, 36,16.1, 31,14.0, 34,11.9, 37,9.8, 33,7.7, 35,5.6, 32,3.5, 36,1.4,
  46,24.7, 44,22.6, 47,20.5, 45,18.4, 48,16.3, 43,14.2, 46,12.1, 49,10.0, 45,7.9, 47,5.8, 44,3.7, 48,1.6,
  58,25.5, 56,23.4, 59,21.3, 57,19.2, 60,17.1, 55,15.0, 58,12.9, 61,10.8, 57,8.7, 59,6.6, 56,4.5, 60,2.4,
  70,26.5, 68,24.4, 71,22.3, 69,20.2, 72,18.1, 67,16.0, 70,13.9, 73,11.8, 69,9.7, 71,7.6, 68,5.5, 72,3.4, 70,1.5,
  82,27.4, 80,25.3, 83,23.2, 81,21.1, 84,19.0, 79,16.9, 82,14.8, 85,12.7, 81,10.6, 83,8.5, 80,6.4, 84,4.3, 82,2.3,
  94,27.6, 92,25.5, 95,23.4, 93,21.3, 96,19.2, 91,17.1, 94,15.0, 97,12.9, 93,10.8, 95,8.7, 92,6.6, 96,4.5, 94,2.4,
  106,27.4, 104,25.3, 107,23.2, 105,21.1, 108,19.0, 103,16.9, 106,14.8, 109,12.7, 105,10.6, 107,8.5, 104,6.4, 108,4.3, 106,2.2,
  118,27.6, 116,25.5, 119,23.4, 117,21.3, 120,19.2, 115,17.1, 118,15.0, 121,12.9, 117,10.8, 119,8.7, 116,6.6, 120,4.5, 118,2.4,
  130,28.6, 128,26.5, 131,24.4, 129,22.3, 132,20.2, 127,18.1, 130,16.0, 133,13.9, 129,11.8, 131,9.7, 128,7.6, 132,5.5, 130,3.4,
  142,30.0, 140,27.9, 143,25.8, 141,23.7, 144,21.6, 139,19.5, 142,17.4, 145,15.3, 141,13.2, 143,11.1, 140,9.0, 144,6.9, 142,4.8, 144,2.9,
  154,30.5, 152,28.4, 155,26.3, 153,24.2, 156,22.1, 151,20.0, 154,17.9, 157,15.8, 153,13.7, 155,11.6, 152,9.5, 156,7.4, 154,5.3, 156,3.2,
  166,30.8, 164,28.7, 167,26.6, 165,24.5, 168,22.4, 163,20.3, 166,18.2, 169,16.1, 165,14.0, 167,11.9, 164,9.8, 168,7.7, 166,5.6,
  178,31.0, 176,28.9, 179,26.8, 177,24.7, 180,22.6, 175,20.5, 178,18.4, 181,16.3, 177,14.2, 179,12.1, 176,10.0, 180,7.9, 178,6.0,
  190,31.3, 188,29.2, 191,27.1, 189,25.0, 192,22.9, 187,20.8, 190,18.7, 193,16.6, 189,14.5, 191,12.4, 188,10.3, 192,8.2, 190,6.3,
  202,31.7, 200,29.6, 203,27.5, 201,25.4, 204,23.3, 199,21.2, 202,19.1, 205,17.0, 201,14.9, 203,12.8, 200,10.7, 204,8.6, 202,6.8,
  214,31.9, 212,29.8, 215,27.7, 213,25.6, 216,23.5, 211,21.4, 214,19.3, 217,17.2, 213,15.1, 215,13.0, 212,10.9, 216,8.8, 214,7.0,
  226,31.7, 224,29.6, 227,27.5, 225,25.4, 228,23.3, 223,21.2, 226,19.1, 229,17.0, 225,14.9, 227,12.8, 224,10.7, 228,8.6, 226,6.8,
  238,31.5, 236,29.4, 239,27.3, 237,25.2, 240,23.1, 235,21.0, 238,18.9, 241,16.8, 237,14.7, 239,12.6, 236,10.5, 240,8.4, 238,6.6,
  250,31.6, 248,29.5, 251,27.4, 249,25.3, 252,23.2, 247,21.1, 250,19.0, 253,16.9, 249,14.8, 251,12.7, 248,10.6, 252,8.5, 250,6.8,
  262,31.8, 260,29.7, 263,27.6, 261,25.5, 264,23.4, 259,21.3, 262,19.2, 265,17.1, 261,15.0, 263,12.9, 260,10.8, 264,8.7, 262,7.2,
  274,32.2, 272,30.1, 275,28.0, 273,25.9, 276,23.8, 271,21.7, 274,19.6, 277,17.5, 273,15.4, 275,13.3, 272,11.2, 276,9.1,
  286,32.4, 284,30.3, 287,28.2, 285,26.1, 288,24.0, 283,21.9, 286,19.8, 289,17.7, 285,15.6, 287,13.5, 284,11.4, 288,9.5,
  298,31.0, 296,28.9, 299,26.8, 297,24.7, 300,22.6, 295,20.5, 298,18.4, 301,16.3, 297,14.2, 299,12.1, 296,10.2,
  310,28.5, 308,26.4, 311,24.3, 309,22.2, 312,20.1, 307,18.0, 310,15.9, 313,13.8, 309,12.0,
  // ragged edge points
  -51,22.7, -42,25.6, -24,26.2, 3,26.4, 33,26.2, 45,26.0, 81,28.0, 90,29.8, 131,30.2, 146,32.4, 176,33.1, 191,32.9,
  206,33.5, 224,33.1, 260,34.0, 281,34.8, 292,34.2,
  146,2.2, 170,2.7, 200,4.9, 236,5.8, 272,5.8, 286,7.6, 310,9.8, 322,11.1,
  -116,10.2, -104,12.0, -92,15.6, -80,16.9, -63,19.1
];

const dotColor = '#3d9cf0';

Chart.defaults.font.family = '"Open Sans", "DejaVu Sans", sans-serif';
Chart.defaults.color = '#777';

function logPairs(arr) {
  const pts = [];
  for (let i = 0; i < arr.length; i += 2) {
    pts.push({ x: Math.pow(10, arr[i] / 100), y: Math.pow(10, arr[i + 1] / 100) });
  }
  return pts;
}

function logXPairs(arr) {
  const pts = [];
  for (let i = 0; i < arr.length; i += 2) {
    pts.push({ x: Math.pow(10, arr[i] / 100), y: arr[i + 1] });
  }
  return pts;
}

function tickLabel(v, values, labels) {
  const i = values.findIndex(t => Math.abs(v - t) <= Math.abs(t) * 1e-6 + 1e-12);
  return i < 0 ? '' : labels[i];
}

// box round the plot area
const framePlugin = {
  id: 'frame',
  beforeDatasetsDraw(chart) {
    const { ctx, chartArea: a } = chart;
    ctx.save();
    ctx.strokeStyle = '#a6a6a6';
    ctx.lineWidth = 1.5;
    ctx.strokeRect(a.left, a.top, a.right - a.left, a.bottom - a.top);
    ctx.restore();
  }
};

// title centred over the plot area, not the canvas
const titlePlugin = {
  id: 'panelTitle',
  afterDraw(chart, args, opts) {
    const { ctx, chartArea: a } = chart;
    ctx.save();
    ctx.font = '14.5px "Open Sans", sans-serif';
    ctx.fillStyle = '#555';
    ctx.textAlign = 'center';
    ctx.textBaseline = 'middle';
    ctx.fillText(opts.text, (a.left + a.right) / 2, opts.y);
    ctx.restore();
  }
};

function makePanel(id, cfg) {
  const isLog = cfg.yType === 'logarithmic';
  new Chart(document.getElementById(id), {
    type: 'scatter',
    data: {
      datasets: [
        {
          type: 'line',
          data: [{ x: lineX[0], y: cfg.line[0] }, { x: lineX[1], y: cfg.line[1] }],
          borderColor: '#767676',
          borderWidth: 1.2,
          pointRadius: 0,
          fill: false,
          order: 0
        },
        {
          data: cfg.points,
          pointBackgroundColor: dotColor,
          pointBorderColor: 'rgba(255,255,255,0.85)',
          pointBorderWidth: 0.8,
          pointRadius: 3.1,
          order: 1
        }
      ]
    },
    options: {
      responsive: false,
      animation: false,
      events: [],
      layout: { padding: cfg.padding },
      plugins: {
        legend: { display: false },
        tooltip: { enabled: false },
        panelTitle: { text: cfg.title, y: cfg.titleY }
      },
      scales: {
        x: {
          type: 'logarithmic',
          min: 0.001,
          max: 10000,
          afterFit: s => { s.height = 50; },
          border: { display: false },
          grid: {
            drawOnChartArea: false,
            tickLength: 4,
            tickColor: c => (c.tick && c.tick.major ? '#999' : '#cfcfcf')
          },
          ticks: {
            autoSkip: false,
            maxRotation: 0,
            minRotation: 0,
            padding: 4,
            color: '#777',
            font: { size: 12 },
            callback: v => tickLabel(v, xTickValues, xTickLabels)
          },
          title: {
            display: true,
            text: 'Effective SLOC (thousands)',
            color: '#666',
            font: { size: 12 },
            padding: { top: 0, bottom: 5 }
          }
        },
        y: {
          type: cfg.yType,
          position: 'right',
          min: cfg.yMin,
          max: cfg.yMax,
          afterFit: s => { s.width = cfg.yWidth; },
          border: { display: false },
          grid: {
            drawOnChartArea: false,
            tickLength: 4,
            tickColor: c => (!isLog || (c.tick && c.tick.major) ? '#999' : '#cfcfcf')
          },
          ticks: {
            autoSkip: false,
            stepSize: isLog ? undefined : 10,
            padding: 2,
            color: '#777',
            font: { size: 12 },
            callback: v => tickLabel(v, cfg.yTickValues, cfg.yTickLabels)
          },
          title: {
            display: true,
            text: cfg.yTitle,
            color: '#666',
            font: { size: 12 },
            padding: { top: 4, bottom: 0 }
          }
        }
      }
    },
    plugins: [framePlugin, titlePlugin]
  });
}

makePanel('durationChart', {
  title: 'MB Duration (Months) vs Effective SLOC', titleY: 18,
  points: logPairs(durationPts), line: durationLine,
  yType: 'logarithmic', yMin: 0.01, yMax: 1000,
  yTickValues: durationTickValues, yTickLabels: durationTickLabels,
  yTitle: 'MB Duration (Months)', yWidth: 71,
  padding: { left: 25, top: 39, right: 41, bottom: 16 }
});

makePanel('effortChart', {
  title: 'MB Effort (MM) vs Effective SLOC', titleY: 18,
  points: logPairs(effortPts), line: effortLine,
  yType: 'logarithmic', yMin: 0.01, yMax: 100000,
  yTickValues: effortTickValues, yTickLabels: effortTickLabels,
  yTitle: 'MB Effort (MM)', yWidth: 100,
  padding: { left: 89, top: 39, right: 21, bottom: 16 }
});

makePanel('defectChart', {
  title: 'Defects (SIT-Del) vs Effective SLOC', titleY: 23,
  points: logPairs(defectPts), line: defectLine,
  yType: 'logarithmic', yMin: 0.1, yMax: 100000,
  yTickValues: defectTickValues, yTickLabels: defectTickLabels,
  yTitle: 'Defects (SIT-Del)', yWidth: 88,
  padding: { left: 25, top: 44, right: 24, bottom: 10 }
});

makePanel('piChart', {
  title: 'PI vs Effective SLOC', titleY: 23,
  points: logXPairs(piPts), line: piLine,
  yType: 'linear', yMin: -10, yMax: 50,
  yTickValues: piTickValues, yTickLabels: piTickLabels,
  yTitle: 'PI', yWidth: 63,
  padding: { left: 89, top: 44, right: 59, bottom: 10 }
});
</script>
</body>
</html>
